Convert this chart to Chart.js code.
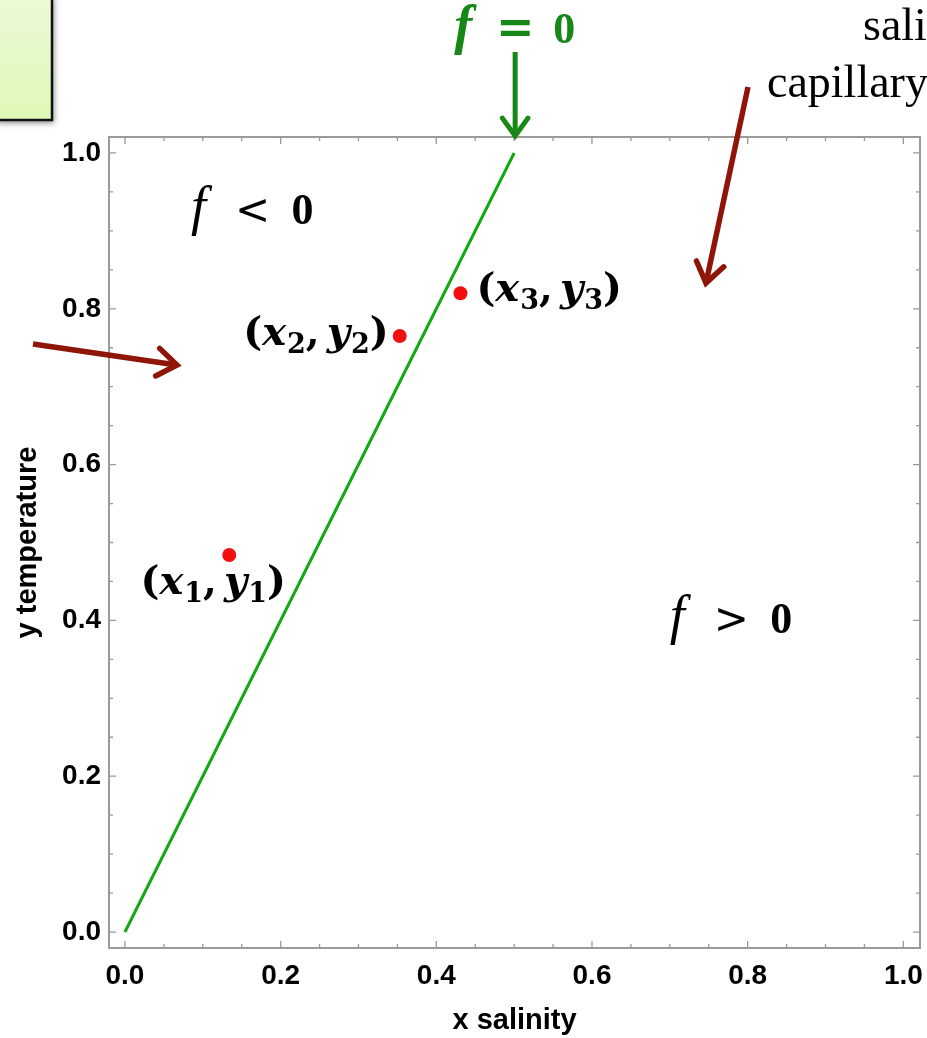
<!DOCTYPE html>
<html>
<head>
<meta charset="utf-8">
<script src="https://cdn.jsdelivr.net/npm/chart.js@4"></script>
<style>
html,body{margin:0;padding:0;background:#fff;overflow:hidden;}
canvas{display:block;}
</style>
</head>
<body>
<canvas id="c" width="927" height="1038"></canvas>
<script>
// ---- data ----
const lineX = [0.0, 0.5];
const lineY = [0.0, 1.0];
const pointX = [0.134, 0.353, 0.431];
const pointY = [0.484, 0.765, 0.820];
const pointSub = ['1', '2', '3'];
const xTickValues = [0.0, 0.2, 0.4, 0.6, 0.8, 1.0];
const xTickLabels = ['0.0', '0.2', '0.4', '0.6', '0.8', '1.0'];
const yTickValues = [0.0, 0.2, 0.4, 0.6, 0.8, 1.0];
const yTickLabels = ['0.0', '0.2', '0.4', '0.6', '0.8', '1.0'];
const minorStep = 0.05;
const xTitle = 'x salinity';
const yTitle = 'y temperature';

const GREEN = '#14a814';
const DARKGREEN = '#178817';
const DARKRED = '#8e1508';
const FRAME = '#9a9a9a';

function drawArrow(ctx, x1, y1, x2, y2, color, w, head) {
  const a = Math.atan2(y2 - y1, x2 - x1);
  ctx.save();
  ctx.strokeStyle = color; ctx.lineWidth = w; ctx.lineCap = 'butt'; ctx.lineJoin = 'miter';
  ctx.beginPath(); ctx.moveTo(x1, y1); ctx.lineTo(x2 - Math.cos(a) * 2, y2 - Math.sin(a) * 2); ctx.stroke();
  ctx.lineCap = 'round';
  ctx.beginPath();
  ctx.moveTo(x2 - head * Math.cos(a - 0.62), y2 - head * Math.sin(a - 0.62));
  ctx.lineTo(x2, y2);
  ctx.lineTo(x2 - head * Math.cos(a + 0.62), y2 - head * Math.sin(a + 0.62));
  ctx.stroke();
  ctx.restore();
}

function drawRuns(ctx, runs, x, y, align, color) {
  ctx.save();
  ctx.fillStyle = color; ctx.textBaseline = 'alphabetic'; ctx.textAlign = 'left';
  let total = 0;
  runs.forEach(r => { ctx.font = r.f; total += ctx.measureText(r.t).width + (r.gap || 0); });
  let cx = align === 'left' ? x : align === 'right' ? x - total : x - total / 2;
  runs.forEach(r => { ctx.font = r.f; ctx.fillText(r.t, cx, y + (r.dy || 0)); cx += ctx.measureText(r.t).width + (r.gap || 0); });
  ctx.restore();
}

function drawPieces(ctx, pieces, x, y, color) {
  ctx.save();
  ctx.fillStyle = color; ctx.textBaseline = 'alphabetic'; ctx.textAlign = 'center';
  pieces.forEach(p => { ctx.font = p.f; ctx.fillText(p.t, x + p.dx, y + (p.dy || 0)); });
  ctx.restore();
}

function coordRuns(sub) {
  const B = 'bold 40px "DejaVu Serif"', BI = 'italic bold 40px "DejaVu Serif"', S = 'bold 27px "DejaVu Serif"';
  return [
    {t: '(', f: B}, {t: 'x', f: BI, gap: 1}, {t: sub, f: S, dy: 8}, {t: ',', f: B, gap: 7},
    {t: 'y', f: BI, gap: 1}, {t: sub, f: S, dy: 8}, {t: ')', f: B}
  ];
}
function relPieces(rel) {
  return [
    {t: 'f', f: 'italic 54px "Liberation Serif"', dx: -54},
    {t: rel, f: '42px "DejaVu Sans"', dx: 0},
    {t: '0', f: 'bold 44px "Liberation Serif"', dx: 50}
  ];
}

const decor = {
  id: 'decor',
  beforeDraw(chart) {
    const ctx = chart.ctx;
    ctx.save();
    ctx.fillStyle = '#fff'; ctx.fillRect(0, 0, chart.width, chart.height);
    ctx.shadowColor = 'rgba(0,0,0,0.45)'; ctx.shadowBlur = 6; ctx.shadowOffsetX = 2; ctx.shadowOffsetY = 3;
    const g = ctx.createLinearGradient(0, 0, 0, 121);
    g.addColorStop(0, '#ebf9d6'); g.addColorStop(1, '#ddf8b6');
    ctx.fillStyle = g; ctx.fillRect(-5, -5, 57, 125);
    ctx.shadowColor = 'transparent';
    ctx.strokeStyle = '#111'; ctx.lineWidth = 2.5; ctx.strokeRect(-5, -5, 57, 125);
    ctx.restore();
  },
  beforeDatasetsDraw(chart) {
    const ctx = chart.ctx, a = chart.chartArea, xs = chart.scales.x, ys = chart.scales.y;
    ctx.save();
    ctx.strokeStyle = FRAME; ctx.lineWidth = 2;
    ctx.strokeRect(a.left, a.top, a.right - a.left, a.bottom - a.top);
    ctx.lineWidth = 1.3;
    for (let k = 0; k <= 20; k++) {
      const v = k * minorStep;
      const major = k % 4 === 0;
      const L = major ? 7 : 4;
      const px = xs.getPixelForValue(v), py = ys.getPixelForValue(v);
      ctx.beginPath();
      ctx.moveTo(px, a.bottom); ctx.lineTo(px, a.bottom - L);
      ctx.moveTo(px, a.top); ctx.lineTo(px, a.top + L);
      ctx.moveTo(a.left, py); ctx.lineTo(a.left + L, py);
      ctx.moveTo(a.right, py); ctx.lineTo(a.right - L, py);
      ctx.stroke();
    }
    ctx.restore();
  },
  afterDraw(chart) {
    const ctx = chart.ctx, xs = chart.scales.x, ys = chart.scales.y;
    const offs = [{dx: -16, dy: 39, al: 'center'}, {dx: -11, dy: 9, al: 'right'}, {dx: 16, dy: 8, al: 'left'}];
    pointX.forEach((v, i) => {
      const px = xs.getPixelForValue(v), py = ys.getPixelForValue(pointY[i]);
      drawRuns(ctx, coordRuns(pointSub[i]), px + offs[i].dx, py + offs[i].dy, offs[i].al, '#000');
    });
    drawPieces(ctx, relPieces('<'), xs.getPixelForValue(0.164), ys.getPixelForValue(0.9088), '#000');
    drawPieces(ctx, relPieces('>'), xs.getPixelForValue(0.779), ys.getPixelForValue(0.384), '#000');
    const topX = xs.getPixelForValue(lineX[1]);
    drawPieces(ctx, [
      {t: 'f', f: 'italic bold 54px "Liberation Serif"', dx: -52},
      {t: '=', f: 'bold 46px "DejaVu Sans"', dx: 0},
      {t: '0', f: 'bold 44px "Liberation Serif"', dx: 49}
    ], topX + 1, 43, DARKGREEN);
    drawArrow(ctx, topX + 1, 52, topX + 1, chart.chartArea.top - 1, DARKGREEN, 5, 22);
    drawArrow(ctx, 33, 344, 177, 365, DARKRED, 5.5, 24);
    drawArrow(ctx, 748, 87, 706, 283, DARKRED, 5.5, 24);
    ctx.save();
    ctx.fillStyle = '#000'; ctx.font = '46px "Liberation Serif"'; ctx.textAlign = 'left'; ctx.textBaseline = 'alphabetic';
    ctx.fillText('salinity', 863, 40);
    ctx.fillText('capillary', 767, 97);
    ctx.restore();
  }
};

const tickFont = {family: '"Liberation Sans", Arial, sans-serif', size: 28, weight: 'bold'};
const titleFont = {family: '"Liberation Sans", Arial, sans-serif', size: 29, weight: 'bold'};

new Chart(document.getElementById('c'), {
  type: 'scatter',
  data: {
    datasets: [
      {
        type: 'line',
        data: lineX.map((v, i) => ({x: v, y: lineY[i]})),
        borderColor: GREEN, borderWidth: 3, pointRadius: 0, fill: false, tension: 0
      },
      {
        data: pointX.map((v, i) => ({x: v, y: pointY[i]})),
        backgroundColor: '#f01010', borderWidth: 0, pointRadius: 7
      }
    ]
  },
  options: {
    responsive: false,
    animation: false,
    devicePixelRatio: 1,
    layout: {padding: {left: 0, top: 137, right: 6, bottom: 0}},
    plugins: {legend: {display: false}, tooltip: {enabled: false}},
    scales: {
      x: {
        type: 'linear', min: -0.0205, max: 1.0214,
        afterFit: s => { s.height = 90; s.paddingLeft = 0; s.paddingRight = 0; },
        afterBuildTicks: s => { s.ticks = xTickValues.map(v => ({value: v})); },
        ticks: {font: tickFont, color: '#000', padding: 3, maxRotation: 0, autoSkip: false,
          callback: (v) => xTickLabels[xTickValues.findIndex(t => Math.abs(t - v) < 1e-6)]},
        grid: {display: false}, border: {display: false},
        title: {display: true, text: xTitle, font: titleFont, color: '#000', padding: 0}
      },
      y: {
        type: 'linear', min: -0.0205, max: 1.0205,
        afterFit: s => { s.width = 109; s.paddingTop = 0; s.paddingBottom = 0; },
        afterBuildTicks: s => { s.ticks = yTickValues.map(v => ({value: v})); },
        ticks: {font: tickFont, color: '#000', padding: 0, autoSkip: false,
          callback: (v) => yTickLabels[yTickValues.findIndex(t => Math.abs(t - v) < 1e-6)]},
        grid: {display: false}, border: {display: false},
        title: {display: true, text: yTitle, font: titleFont, color: '#000', padding: {top: 11, bottom: 0}}
      }
    }
  },
  plugins: [decor]
});
</script>
</body>
</html>
